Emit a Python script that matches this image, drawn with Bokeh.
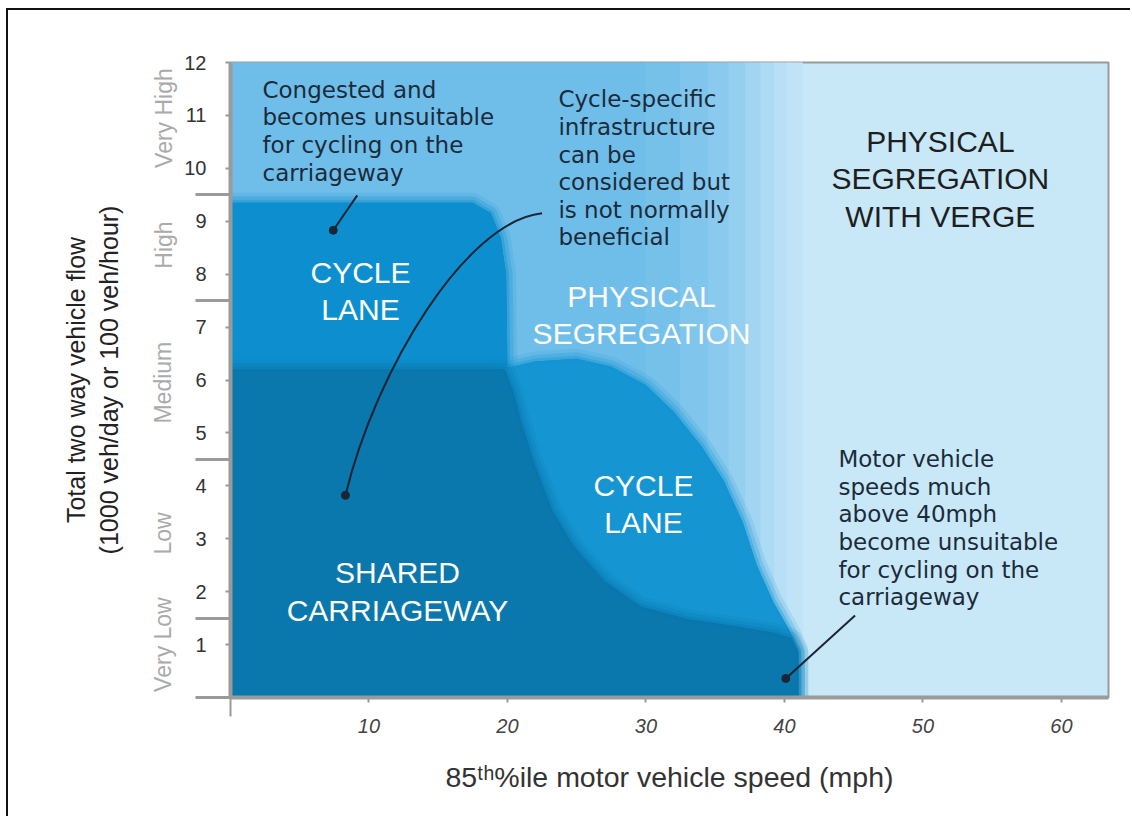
import math
from bokeh.plotting import figure
from bokeh.models import Range1d, LinearAxis, FixedTicker
from bokeh.core.properties import value
from bokeh.embed import file_html
from bokeh.resources import INLINE

# ---------------- axis data ----------------
speed_ticks = [10, 20, 30, 40, 50, 60]
flow_ticks = [1, 2, 3, 4, 5, 6, 7, 8, 9, 10, 11, 12]
flow_band_edges = [0, 1.5, 4.5, 7.5, 9.5]
flow_categories = ["Very Low", "Low", "Medium", "High", "Very High"]
flow_category_pos = [1.0, 3.1, 5.95, 8.55, 10.95]

# ---------------- zones ----------------
# light "physical segregation" zone, shaded in vertical strips (speed mph)
strip_left = [0, 30, 32.5, 34.5, 36, 37.2, 38.3, 39.3, 40.2]
strip_right = [30, 32.5, 34.5, 36, 37.2, 38.3, 39.3, 40.2, 41.3]
strip_colors = ["#6fbee9", "#76c1ea", "#7fc5ec", "#89caee", "#95cff0",
                "#a1d5f2", "#addaf4", "#b8dff5", "#c0e3f7"]

lane_upper_x = [0, 0, 17.5, 18.8, 19.5, 19.9, 20.0]
lane_upper_y = [6.2, 9.35, 9.35, 9.15, 8.7, 8.0, 6.2]

lane_lower_x = [19.5, 22, 25, 27.5, 30, 32, 34, 35.6, 37, 38, 39.2, 40.3, 41, 41, 19.5]
lane_lower_y = [6.2, 6.35, 6.4, 6.25, 5.9, 5.4, 4.75, 4.1, 3.3, 2.5, 1.8, 1.3, 0.9, 0, 0]

shared_x = [0, 0, 19.8, 20.4, 21.0, 21.9, 23.2, 24.8, 27.0, 29.6, 33.0, 36.8, 39.3, 40.5, 41.0, 41.0]
shared_y = [0, 6.2, 6.2, 5.8, 5.2, 4.45, 3.55, 2.85, 2.2, 1.72, 1.48, 1.33, 1.22, 1.12, 0.85, 0]

# ---------------- labels ----------------
zone_text = ["CYCLE\nLANE", "PHYSICAL\nSEGREGATION", "CYCLE\nLANE", "SHARED\nCARRIAGEWAY"]
zone_x = [9.39, 29.68, 29.82, 12.06]
zone_y = [7.68, 7.23, 3.66, 2.0]

verge_text = ["PHYSICAL\nSEGREGATION\nWITH VERGE"]
verge_x = [51.26]
verge_y = [9.80]

note_text = ["Congested and\nbecomes unsuitable\nfor cycling on the\ncarriageway",
             "Cycle-specific\ninfrastructure\ncan be\nconsidered but\nis not normally\nbeneficial",
             "Motor vehicle\nspeeds much\nabove 40mph\nbecome unsuitable\nfor cycling on the\ncarriageway"]
note_x = [2.31, 23.68, 43.9]
note_y = [10.70, 10.0, 3.20]

# straight leader lines: (start, dot)
leader_x0 = [9.15, 45.1]
leader_y0 = [9.49, 1.55]
leader_x1 = [7.42, 40.1]
leader_y1 = [8.83, 0.36]
# curved leader (cubic bezier)
curve_x0, curve_y0 = [22.5], [9.15]
curve_cx0, curve_cy0 = [17.0], [9.0]
curve_cx1, curve_cy1 = [10.5], [6.2]
curve_x1, curve_y1 = [8.3], [3.82]

dot_x = leader_x1 + curve_x1
dot_y = leader_y1 + curve_y1

# ---------------- figure ----------------
p = figure(width=1124, height=808,
           x_range=Range1d(0, 63.4), y_range=Range1d(0, 12),
           output_backend="svg", toolbar_location=None,
           min_border_left=222, min_border_right=24,
           min_border_top=52, min_border_bottom=121,
           background_fill_color="#c8e8f8", border_fill_color="white",
           outline_line_color="#9a9a9a", outline_line_width=2)
p.styles = {"border-left": "2px solid #111", "border-top": "2px solid #111",
            "margin-left": "6px", "margin-top": "8px"}
p.grid.visible = False

# zones
p.quad(left=strip_left, right=strip_right, bottom=0, top=12,
       fill_color=strip_colors, line_color=strip_colors, line_width=1)

def soft_patch(xs, ys, color):
    p.patch(xs, ys, fill_color=color, line_color=color, line_width=20, line_alpha=0.14)
    p.patch(xs, ys, fill_color=color, line_color=color, line_width=13, line_alpha=0.22)
    p.patch(xs, ys, fill_color=color, line_color=color, line_width=6, line_alpha=0.35)

soft_patch(lane_upper_x, lane_upper_y, "#0d8fcf")
soft_patch(lane_lower_x, lane_lower_y, "#1596d3")
soft_patch(shared_x, shared_y, "#0a77ad")

# texts
font_zone = value("Liberation Sans")
p.text(zone_x, zone_y, text=zone_text, text_align="center", text_baseline="middle",
       text_color="white", text_font=font_zone, text_font_size="30px", text_line_height=1.14)
p.text(verge_x, verge_y, text=verge_text, text_align="center", text_baseline="middle",
       text_color="#1e1e1e", text_font=font_zone, text_font_size="30px", text_line_height=1.14)
p.text(note_x, note_y, text=note_text, text_align="left", text_baseline="middle",
       text_color="#1c2a3a", text_font=value("DejaVu Sans"), text_font_size="23px",
       text_line_height=1.06)

# leaders
p.segment(leader_x0, leader_y0, leader_x1, leader_y1, line_color="#1a2535", line_width=2)
p.bezier(x0=curve_x0, y0=curve_y0, x1=curve_x1, y1=curve_y1,
         cx0=curve_cx0, cy0=curve_cy0, cx1=curve_cx1, cy1=curve_cy1,
         line_color="#1a2535", line_width=2)
p.scatter(dot_x, dot_y, size=8, color="#1a2535")

# x axis
xa = p.xaxis[0]
xa.ticker = FixedTicker(ticks=speed_ticks, minor_ticks=[0])
xa.axis_line_color = "#9a9a9a"
xa.axis_line_width = 4
xa.major_tick_in = 0
xa.major_tick_out = 5
xa.minor_tick_in = 0
xa.minor_tick_out = 19
xa.major_tick_line_color = "#9a9a9a"
xa.major_tick_line_width = 2
xa.minor_tick_line_color = "#9a9a9a"
xa.minor_tick_line_width = 2
xa.major_label_text_font = "Liberation Sans"
xa.major_label_text_font_size = "20px"
xa.major_label_text_font_style = "italic"
xa.major_label_text_color = "#444444"
xa.major_label_standoff = 2
xa.axis_label = "85ᵗʰ%ile motor vehicle speed (mph)"
xa.axis_label_text_font = "Liberation Sans"
xa.axis_label_text_font_size = "28.5px"
xa.axis_label_text_font_style = "normal"
xa.axis_label_text_color = "#333333"
xa.axis_label_standoff = 25

# y axis (numbers + band boundary ticks)
ya = p.yaxis[0]
ya.ticker = FixedTicker(ticks=flow_ticks, minor_ticks=flow_band_edges)
ya.axis_line_color = "#9a9a9a"
ya.axis_line_width = 4
ya.major_tick_in = 0
ya.major_tick_out = 5
ya.minor_tick_in = 0
ya.minor_tick_out = 35
ya.major_tick_line_color = "#9a9a9a"
ya.major_tick_line_width = 2
ya.minor_tick_line_color = "#9a9a9a"
ya.minor_tick_line_width = 3
ya.major_label_text_font = "Liberation Sans"
ya.major_label_text_font_size = "20px"
ya.major_label_text_color = "#333333"
ya.major_label_standoff = -11

# category axis
ca = LinearAxis(ticker=FixedTicker(ticks=flow_category_pos, minor_ticks=[]),
                major_label_overrides={pos: name for pos, name in zip(flow_category_pos, flow_categories)},
                major_label_orientation="parallel")
ca.axis_line_color = None
ca.major_tick_line_color = None
ca.minor_tick_line_color = None
ca.major_tick_out = 0
ca.major_tick_in = 0
ca.major_label_standoff = 5
ca.major_label_text_font = "Liberation Sans"
ca.major_label_text_font_size = "23px"
ca.major_label_text_color = "#aaaaaa"
ca.axis_label = "Total two way vehicle flow\n(1000 veh/day or 100 veh/hour)"
ca.axis_label_text_font = "Liberation Sans"
ca.axis_label_text_font_size = "25px"
ca.axis_label_text_font_style = "normal"
ca.axis_label_text_color = "#222222"
ca.axis_label_standoff = 25
ca.axis_label_text_line_height = 1.15
p.add_layout(ca, "left")

open("out.html", "w").write(file_html(p, INLINE))
